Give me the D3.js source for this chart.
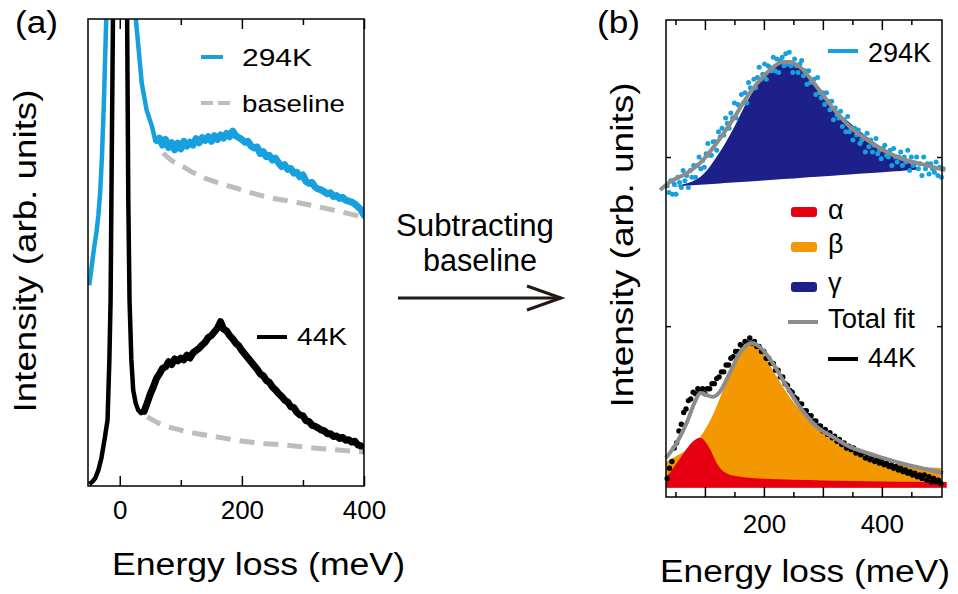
<!DOCTYPE html>
<html>
<head>
<meta charset="utf-8">
<script src="https://cdn.jsdelivr.net/npm/d3@7"></script>
<style>
  body { margin: 0; background: #fff; }
  svg { display: block; }
</style>
</head>
<body>
<svg id="chart" width="958" height="594"></svg>
<script>
// ---------- panel (a): raw spectra, arbitrary units ----------
// elastic-peak part of each spectrum (irregular energy steps, meV)
const hotPeakE = [-50, -46, -42, -38, -35, -32, -29, -26, -23, -21, 0, 22, 24, 27, 31, 36, 44, 53, 58];
const hotPeakI = [4.30, 4.70, 5.10, 5.45, 5.80, 6.30, 7.10, 8.20, 9.60, 10.5, 40, 10.8, 10.3, 9.9, 9.34, 8.63, 8.05, 7.69, 7.41];
// 294K tail, 60..400 meV every 5 meV
const hotTail = [
  7.40, 7.45, 7.30, 7.42, 7.25, 7.35, 7.20, 7.34, 7.22, 7.38,
  7.28, 7.36, 7.30, 7.44, 7.35, 7.46, 7.40, 7.48, 7.38, 7.50,
  7.42, 7.52, 7.45, 7.55, 7.48, 7.60, 7.50, 7.46, 7.42, 7.36,
  7.38, 7.28, 7.24, 7.26, 7.12, 7.16, 7.05, 7.08, 6.98, 7.02,
  6.92, 6.84, 6.88, 6.78, 6.80, 6.70, 6.72, 6.62, 6.66, 6.52,
  6.48, 6.50, 6.40, 6.36, 6.34, 6.30, 6.26, 6.28, 6.20, 6.22,
  6.16, 6.18, 6.12, 6.10, 6.08, 6.04, 5.98, 5.92, 5.80];

const coldPeakE = [-50, -45, -40, -35, -30, -25, -20, -17, -15, -13, -11, 0, 12, 14, 16, 19, 22, 26, 30, 35];
const coldPeakI = [0.04, 0.09, 0.17, 0.34, 0.60, 0.99, 1.41, 2.70, 3.98, 7.19, 10.2, 40, 10.2, 6.12, 3.98, 2.70, 2.06, 1.78, 1.63, 1.56];
// 44K tail, 40..400 meV every 5 meV
const coldTail = [
  1.60, 1.78, 1.97, 2.12, 2.30, 2.40, 2.52, 2.55, 2.66, 2.60,
  2.72, 2.68, 2.74, 2.70, 2.80, 2.74, 2.85, 2.90, 2.95, 3.02,
  3.08, 3.18, 3.22, 3.30, 3.38, 3.52, 3.36, 3.32, 3.22, 3.15,
  3.06, 3.00, 2.90, 2.82, 2.74, 2.66, 2.58, 2.50, 2.40, 2.36,
  2.26, 2.22, 2.12, 2.06, 1.98, 1.92, 1.84, 1.80, 1.70, 1.68,
  1.58, 1.52, 1.50, 1.40, 1.38, 1.30, 1.28, 1.24, 1.20, 1.18,
  1.12, 1.12, 1.06, 1.07, 1.02, 1.04, 0.98, 0.99, 0.94, 0.96,
  0.88, 0.86, 0.76];

const hotBaseE = [71, 87, 99, 131, 185, 241, 295, 349, 398];
const hotBaseI = [7.13, 6.95, 6.87, 6.64, 6.40, 6.19, 6.06, 5.91, 5.76];
const coldBaseE = [45, 66, 99, 159, 213, 267, 322, 398];
const coldBaseI = [1.48, 1.33, 1.20, 1.05, 0.94, 0.88, 0.81, 0.73];

// ---------- panel (b): baseline subtracted ----------
const gammaE = [41, 92, 120, 147, 176, 205, 227, 241, 261, 290, 317, 346, 375, 402, 431, 459];
const gammaTop = [1.823, 1.882, 2.001, 2.160, 2.356, 2.497, 2.556, 2.562, 2.526, 2.414, 2.296, 2.201, 2.119, 2.054, 1.994, 1.941];
const gammaBaseE = [41, 459];
const gammaBaseI = [1.823, 1.924];

const fitHotE = [24, 41, 70, 92, 120, 147, 176, 205, 232, 244, 261, 290, 317, 346, 375, 402, 431, 459, 486, 507];
const fitHot = [1.805, 1.853, 1.906, 1.965, 2.083, 2.219, 2.379, 2.497, 2.562, 2.562, 2.532, 2.414, 2.290, 2.178, 2.101, 2.041, 1.994, 1.965, 1.941, 1.923];

// 294K points, 36..504 meV every 3 meV
const hotDots = [
  1.83, 1.79, 1.86, 1.78, 1.84, 1.78, 1.88, 1.85, 1.82, 1.92,
  1.86, 1.89, 1.82, 1.92, 1.88, 1.95, 1.88, 1.95, 2.00, 1.93,
  1.98, 1.94, 2.02, 2.08, 2.01, 2.01, 2.09, 2.09, 2.04, 2.15,
  2.12, 2.17, 2.13, 2.23, 2.20, 2.17, 2.26, 2.23, 2.32, 2.23,
  2.31, 2.30, 2.37, 2.32, 2.38, 2.32, 2.44, 2.41, 2.40, 2.46,
  2.41, 2.47, 2.53, 2.46, 2.49, 2.55, 2.46, 2.54, 2.53, 2.51,
  2.59, 2.51, 2.58, 2.50, 2.57, 2.59, 2.54, 2.61, 2.55, 2.62,
  2.54, 2.50, 2.58, 2.54, 2.50, 2.55, 2.57, 2.48, 2.51, 2.43,
  2.51, 2.44, 2.45, 2.46, 2.37, 2.47, 2.38, 2.35, 2.38, 2.31,
  2.38, 2.33, 2.28, 2.33, 2.22, 2.29, 2.25, 2.23, 2.27, 2.18,
  2.22, 2.15, 2.24, 2.15, 2.17, 2.10, 2.17, 2.13, 2.16, 2.08,
  2.10, 2.12, 2.03, 2.14, 2.06, 2.10, 2.03, 2.07, 2.11, 2.02,
  2.04, 1.99, 2.05, 2.07, 2.01, 2.00, 2.04, 1.95, 2.05, 2.00,
  1.97, 2.00, 2.03, 1.95, 2.00, 1.97, 2.04, 1.92, 2.00, 1.95,
  1.96, 2.00, 1.93, 1.96, 1.89, 2.00, 1.93, 1.96, 1.90, 1.96,
  1.93, 1.91, 1.97, 1.89, 1.94, 1.88, 1.93];

const alphaE = [34, 40, 50, 60, 70, 80, 88, 92, 96, 100, 105, 110, 115, 120, 125, 130, 140, 150, 170, 200, 250, 300, 350, 400, 450, 510];
const alphaI = [0.108, 0.13, 0.18, 0.23, 0.28, 0.32, 0.338, 0.34, 0.335, 0.32, 0.295, 0.265, 0.225, 0.19, 0.165, 0.145, 0.125, 0.115, 0.105, 0.098, 0.092, 0.088, 0.085, 0.082, 0.080, 0.078];
const betaE = [34, 50, 69, 92, 115, 131, 148, 164, 180, 198, 215, 239, 261, 290, 317, 346, 375, 402, 431, 459, 500];
const betaI = [0.197, 0.23, 0.268, 0.345, 0.487, 0.623, 0.759, 0.859, 0.901, 0.842, 0.741, 0.605, 0.504, 0.404, 0.327, 0.268, 0.227, 0.197, 0.179, 0.167, 0.162];
const fillBase = 0.045;

const fitColdE = [34, 52, 69, 83, 92, 103, 113, 125, 142, 159, 180, 193, 215, 239, 261, 290, 317, 346, 375, 402, 431, 459, 504];
const fitCold = [0.221, 0.309, 0.428, 0.552, 0.605, 0.593, 0.582, 0.611, 0.723, 0.842, 0.901, 0.877, 0.782, 0.641, 0.522, 0.404, 0.345, 0.286, 0.250, 0.221, 0.191, 0.167, 0.132];

// 44K points, 36..500 meV every 4 meV
const coldDots = [
  0.10, 0.16, 0.20, 0.28, 0.31, 0.38, 0.42, 0.49, 0.51, 0.56,
  0.57, 0.61, 0.60, 0.63, 0.61, 0.63, 0.60, 0.63, 0.63, 0.66,
  0.66, 0.69, 0.70, 0.73, 0.73, 0.77, 0.77, 0.81, 0.82, 0.85,
  0.85, 0.89, 0.88, 0.91, 0.90, 0.93, 0.90, 0.91, 0.88, 0.88,
  0.85, 0.85, 0.81, 0.81, 0.78, 0.78, 0.74, 0.74, 0.70, 0.70,
  0.66, 0.65, 0.62, 0.61, 0.58, 0.57, 0.54, 0.54, 0.50, 0.50,
  0.47, 0.47, 0.44, 0.44, 0.41, 0.41, 0.38, 0.39, 0.36, 0.37,
  0.34, 0.35, 0.32, 0.33, 0.30, 0.31, 0.28, 0.29, 0.27, 0.28,
  0.25, 0.26, 0.24, 0.25, 0.22, 0.24, 0.21, 0.23, 0.20, 0.21,
  0.19, 0.20, 0.18, 0.19, 0.17, 0.18, 0.16, 0.17, 0.15, 0.16,
  0.14, 0.15, 0.13, 0.14, 0.12, 0.13, 0.11, 0.12, 0.10, 0.12,
  0.09, 0.11, 0.08, 0.10, 0.08, 0.09, 0.07];

const ticksA = [0, 200, 400], minorA = [100, 300];
const ticksB = [100, 200, 300, 400], minorB = [50, 150, 250, 350, 450];

// colours
const blue = "#16a0de", navy = "#1d2088", red = "#e60012", orange = "#f39800";
const fitGray = "#8c8c8c", baseGray = "#bdbdbd";
const font = "'Liberation Sans', Arial, Helvetica, sans-serif";

const svg = d3.select("#chart");
const pairs = (e, v) => e.map((x, i) => [x, v[i]]);

function styleAxis(g, size) {
    g.select(".domain").remove();
    g.selectAll("line").attr("stroke", "#000").attr("stroke-width", 1.5);
    g.selectAll("text").attr("font-size", size).attr("font-family", font).attr("fill", "#000");
}

// ================= panel (a) =================
const xA = d3.scaleLinear().domain([-52, 400]).range([88, 364]);
const yA = d3.scaleLinear().domain([0, 10]).range([486, 19]);
const lineA = d3.line().x(d => xA(d[0])).y(d => yA(d[1]));
const smoothA = d3.line().x(d => xA(d[0])).y(d => yA(d[1])).curve(d3.curveMonotoneX);

svg.append("clipPath").attr("id", "clipA")
    .append("rect").attr("x", 88).attr("y", 19).attr("width", 276).attr("height", 467);

const plotA = svg.append("g").attr("clip-path", "url(#clipA)");

const hotPeak = pairs(hotPeakE, hotPeakI), hotRest = pairs(d3.range(60, 401, 5), hotTail);
const coldPeak = pairs(coldPeakE, coldPeakI), coldRest = pairs(d3.range(40, 401, 5), coldTail);

// elastic peak drawn thinner, the noisy tail as a thick band
[[hotPeak, hotRest, blue], [coldPeak, coldRest, "#000"]].forEach(([pk, tail, col]) => {
    plotA.append("path").datum(pk.concat([tail[0]])).attr("d", lineA)
        .attr("fill", "none").attr("stroke", col).attr("stroke-width", 4.5).attr("stroke-linejoin", "round");
    plotA.append("path").datum(tail).attr("d", lineA)
        .attr("fill", "none").attr("stroke", col).attr("stroke-width", 7)
        .attr("stroke-linejoin", "round").attr("stroke-linecap", "round");
});

[pairs(hotBaseE, hotBaseI), pairs(coldBaseE, coldBaseI)].forEach(b => {
    plotA.append("path").datum(b).attr("d", smoothA)
        .attr("fill", "none").attr("stroke", baseGray).attr("stroke-width", 5)
        .attr("stroke-dasharray", "15,9");
});

// axes (a)
const botA = svg.append("g").attr("transform", "translate(0,486)")
    .call(d3.axisBottom(xA).tickValues(ticksA).tickSize(-10).tickPadding(14.5).tickFormat(d3.format("d")));
styleAxis(botA, 26);
styleAxis(svg.append("g").attr("transform", "translate(0,486)")
    .call(d3.axisBottom(xA).tickValues(minorA).tickSize(-6).tickFormat("")), 26);
styleAxis(svg.append("g").attr("transform", "translate(0,19)")
    .call(d3.axisTop(xA).tickValues(ticksA).tickSize(-10).tickFormat("")), 26);
styleAxis(svg.append("g").attr("transform", "translate(0,19)")
    .call(d3.axisTop(xA).tickValues(minorA).tickSize(-6).tickFormat("")), 26);

svg.append("rect").attr("x", 88).attr("y", 19).attr("width", 276).attr("height", 467)
    .attr("fill", "none").attr("stroke", "#000").attr("stroke-width", 1.5);

// legend (a)
svg.append("line").attr("x1", 201).attr("x2", 223).attr("y1", 57).attr("y2", 57)
    .attr("stroke", blue).attr("stroke-width", 4);
svg.append("line").attr("x1", 201).attr("x2", 230).attr("y1", 103).attr("y2", 103)
    .attr("stroke", baseGray).attr("stroke-width", 4).attr("stroke-dasharray", "12,5");
svg.append("line").attr("x1", 257).attr("x2", 287).attr("y1", 337).attr("y2", 337)
    .attr("stroke", "#000").attr("stroke-width", 4);

function label(x, y, txt, size, len, anchor) {
    const t = svg.append("text").attr("x", x).attr("y", y).text(txt)
        .attr("font-family", font).attr("font-size", size).attr("fill", "#000")
        .attr("text-anchor", anchor || "start");
    if (len) t.attr("textLength", len).attr("lengthAdjust", "spacingAndGlyphs");
    return t;
}
label(242, 66, "294K", 24, 70);
label(242, 112, "baseline", 24, 103);
label(297, 345, "44K", 24, 50);

label(15, 33, "(a)", 31, 43);
label(258.5, 575, "Energy loss (meV)", 31, 293, "middle");
label(0, 0, "Intensity (arb. units)", 31, 323, "middle")
    .attr("transform", "translate(36,251) rotate(-90)");

// ================= arrow =================
label(475, 236, "Subtracting", 31, 158, "middle");
label(480, 271, "baseline", 31, 114, "middle");
svg.append("line").attr("x1", 398).attr("x2", 561).attr("y1", 298).attr("y2", 298)
    .attr("stroke", "#231815").attr("stroke-width", 3);
svg.append("polyline").attr("points", "527,286 561,298 527,310")
    .attr("fill", "none").attr("stroke", "#231815").attr("stroke-width", 3);

// ================= panel (b) =================
const xB = d3.scaleLinear().domain([34, 502]).range([666, 942]);
const yB = d3.scaleLinear().domain([-0.01, 2.81]).range([497, 20]);
const smoothB = d3.line().x(d => xB(d[0])).y(d => yB(d[1])).curve(d3.curveMonotoneX);
const gBase = d3.scaleLinear().domain(gammaBaseE).range(gammaBaseI);

// gamma (294K)
svg.append("path").datum(pairs(gammaE, gammaTop))
    .attr("d", d3.area().x(d => xB(d[0])).y0(d => yB(gBase(d[0]))).y1(d => yB(d[1])).curve(d3.curveMonotoneX))
    .attr("fill", navy);

svg.append("g").selectAll("circle").data(pairs(d3.range(36, 505, 3), hotDots)).join("circle")
    .attr("cx", d => xB(d[0])).attr("cy", d => yB(d[1])).attr("r", 2.5).attr("fill", blue);

svg.append("path").datum(pairs(fitHotE, fitHot)).attr("d", smoothB)
    .attr("fill", "none").attr("stroke", fitGray).attr("stroke-width", 4);

// beta and alpha (44K)
const areaB = d3.area().x(d => xB(d[0])).y0(yB(fillBase)).y1(d => yB(d[1])).curve(d3.curveMonotoneX);
svg.append("path").datum(pairs(betaE, betaI)).attr("d", areaB).attr("fill", orange);
svg.append("path").datum(pairs(alphaE, alphaI)).attr("d", areaB).attr("fill", red);

svg.append("g").selectAll("circle").data(pairs(d3.range(36, 501, 4), coldDots)).join("circle")
    .attr("cx", d => xB(d[0])).attr("cy", d => yB(d[1])).attr("r", 2.7).attr("fill", "#000");

svg.append("path").datum(pairs(fitColdE, fitCold)).attr("d", smoothB)
    .attr("fill", "none").attr("stroke", fitGray).attr("stroke-width", 4);

// axes (b)
const botB = svg.append("g").attr("transform", "translate(0,497)")
    .call(d3.axisBottom(xB).tickValues(ticksB).tickSize(-10).tickPadding(17.5)
        .tickFormat(d => d % 200 === 0 ? d : ""));
styleAxis(botB, 26);
styleAxis(svg.append("g").attr("transform", "translate(0,497)")
    .call(d3.axisBottom(xB).tickValues(minorB).tickSize(-5).tickFormat("")), 26);
styleAxis(svg.append("g").attr("transform", "translate(0,20)")
    .call(d3.axisTop(xB).tickValues(ticksB).tickSize(-10).tickFormat("")), 26);
styleAxis(svg.append("g").attr("transform", "translate(0,20)")
    .call(d3.axisTop(xB).tickValues(minorB).tickSize(-5).tickFormat("")), 26);
styleAxis(svg.append("g").attr("transform", "translate(666,0)")
    .call(d3.axisLeft(yB).tickValues([1, 2]).tickSize(-5).tickFormat("")), 26);
styleAxis(svg.append("g").attr("transform", "translate(942,0)")
    .call(d3.axisRight(yB).tickValues([1, 2]).tickSize(-5).tickFormat("")), 26);

svg.append("rect").attr("x", 666).attr("y", 20).attr("width", 276).attr("height", 477)
    .attr("fill", "none").attr("stroke", "#000").attr("stroke-width", 1.5);

// legend (b)
svg.append("line").attr("x1", 828).attr("x2", 858).attr("y1", 51).attr("y2", 51)
    .attr("stroke", blue).attr("stroke-width", 4);
label(868, 62, "294K", 27);

const patches = [
    { name: "α", color: red, y: 207, base: 219 },
    { name: "β", color: orange, y: 242, base: 253 },
    { name: "γ", color: navy, y: 282, base: 292 }
];
patches.forEach(p => {
    svg.append("rect").attr("x", 791).attr("y", p.y).attr("width", 26).attr("height", 10)
        .attr("rx", 3).attr("fill", p.color);
    label(828, p.base, p.name, 27);
});
svg.append("line").attr("x1", 788).attr("x2", 818).attr("y1", 322).attr("y2", 322)
    .attr("stroke", fitGray).attr("stroke-width", 4);
label(828, 328, "Total fit", 27, 87);
svg.append("line").attr("x1", 828).attr("x2", 858).attr("y1", 359).attr("y2", 359)
    .attr("stroke", "#000").attr("stroke-width", 4);
label(868, 367, "44K", 27);

label(597, 33, "(b)", 31, 43);
label(805, 582, "Energy loss (meV)", 31, 290, "middle");
label(0, 0, "Intensity (arb. units)", 31, 325, "middle")
    .attr("transform", "translate(633,245) rotate(-90)");
</script>
</body>
</html>
